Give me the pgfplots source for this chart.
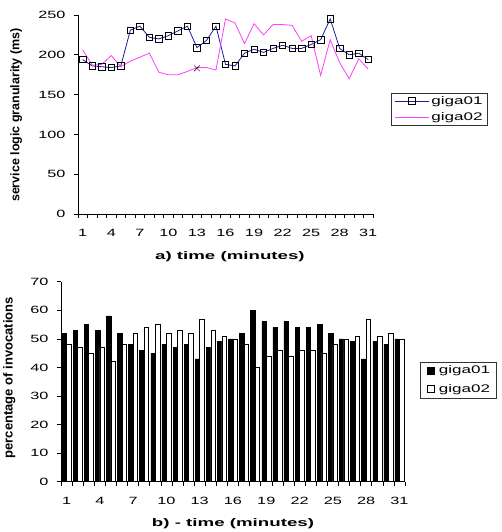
\documentclass[border=0pt]{standalone}
\usepackage{fontspec}
\setmainfont{Liberation Sans}[FakeStretch=1.55]
\newfontfamily\labfont{Liberation Sans}[FakeStretch=1.7]
\newfontfamily\ylabfont{Liberation Sans}
\usepackage{pgfplots}
\usepackage{pgfplotstable}
\pgfplotsset{compat=1.18}
\definecolor{navyline}{RGB}{20,30,150}
\definecolor{magline}{RGB}{255,60,255}

% a) service logic granularity (ms) per minute
\pgfplotstableread{
t  giga01 giga02
1  194 206
2  186 187
3  185 188
4  184 199
5  186 185
6  231 192
7  236 197
8  222 202
9  220 178
10 224 175
11 230 175
12 236 179
13 209 184
14 218 184
15 236 181
16 188 245
17 186 240
18 202 214
19 207 239
20 203 225
21 208 238
22 212 238
23 208 237
24 208 217
25 213 224
26 219 174
27 245 219
28 208 190
29 200 170
30 202 195
31 194 182
}\granularity

% b) percentage of invocations per minute
\pgfplotstableread{
t  giga01 giga02
1  52 48
2  53 47
3  55 45
4  53 47
5  58 42
6  52 48
7  48 52
8  46 54
9  45 55
10 48 52
11 47 53
12 48 52
13 43 57
14 47 53
15 49 51
16 50 50
17 52 48
18 60 40
19 56 44
20 54 46
21 56 44
22 54 46
23 54 46
24 55 45
25 52 48
26 50 50
27 49 51
28 43 57
29 49 51
30 48 52
31 50 50
}\invocations

\pgfplotsset{
  oldexcel/.style={
    scale only axis,
    axis x line*=bottom, axis y line*=left,
    axis line style={black, line width=0.6pt, -},
    xmin=0.5, xmax=31.5,
    xtick={1,4,...,31},
    minor xtick={0.5,1.5,...,31.5},
    major x tick style={draw=none},
    tick align=outside,
    major tick length=4pt, minor tick length=4pt,
    every tick/.style={black, line width=0.6pt},
    /pgf/number format/assume math mode=true,
    tick label style={font=\fontsize{10.5}{12}\selectfont},
    xticklabel style={yshift=-8pt},
    yticklabel style={xshift=-5pt},
    legend cell align=left,
    legend style={draw=black!80, line width=0.5pt,
      font=\fontsize{11}{13}\selectfont,
      inner xsep=2pt, inner ysep=1pt},
  }
}

\begin{document}
\begin{tikzpicture}
\useasboundingbox (0pt,0pt) rectangle (501pt,532pt);

\begin{axis}[oldexcel,
    at={(78pt,318pt)}, anchor=south west,
    width=295pt, height=199pt,
    ymin=0, ymax=250, ytick={0,50,...,250},
    xlabel={a) time (minutes)},
    xlabel style={at={(axis description cs:0.515,-0.19)}, anchor=north,
      inner sep=0pt, font=\fontsize{11}{13}\labfont\bfseries},
    ylabel={service logic granularity (ms)},
    ylabel style={at={(axis description cs:-0.21,0.497)}, anchor=center,
      inner sep=0pt, font=\fontsize{12.5}{14}\ylabfont\bfseries},
    legend style={at={(1.062,0.608)}, anchor=north west, row sep=3pt,
      inner xsep=3pt},
    legend image code/.code={
      \draw[mark repeat=2, mark phase=2, #1]
        plot coordinates {(0pt,0pt) (17pt,0pt) (34pt,0pt)};},
]
\addplot[navyline, line width=0.8pt, mark=square, mark size=3.2pt,
  mark options={black, solid, line width=0.6pt, fill=none}]
  table[x=t, y=giga01] {\granularity};
\addplot[magline, line width=0.8pt] table[x=t, y=giga02] {\granularity};
\addplot[only marks, mark=x, mark size=4pt, black, forget plot]
  coordinates {(13,183)};
\legend{giga01, giga02}
\end{axis}

\begin{axis}[oldexcel,
    at={(61pt,50.3pt)}, anchor=south west,
    width=344pt, height=200pt,
    ymin=0, ymax=70, ytick={0,10,...,70},
    ybar=0pt, bar width=4.5pt,
    xlabel={b) - time (minutes)},
    xlabel style={at={(axis description cs:0.5,-0.185)}, anchor=north,
      inner sep=0pt, font=\fontsize{11}{13}\labfont\bfseries},
    ylabel={percentage of invocations},
    ylabel style={at={(axis description cs:-0.15,0.52)}, anchor=center,
      inner sep=0pt, font=\fontsize{13}{15}\ylabfont\bfseries},
    legend style={at={(1.044,0.6)}, anchor=north west, row sep=5pt,
      inner xsep=4pt, inner ysep=2pt},
    legend image code/.code={
      \path (0pt,0pt) (12pt,0pt);
      \draw[#1, line width=0.6pt] (3pt,-3.4pt) rectangle (10pt,3.4pt);},
]
\addplot[fill=black, draw=black, line width=0.5pt]
  table[x=t, y=giga01] {\invocations};
\addplot[fill=white, draw=black, line width=0.5pt]
  table[x=t, y=giga02] {\invocations};
\legend{giga01, giga02}
\end{axis}
\end{tikzpicture}
\end{document}
